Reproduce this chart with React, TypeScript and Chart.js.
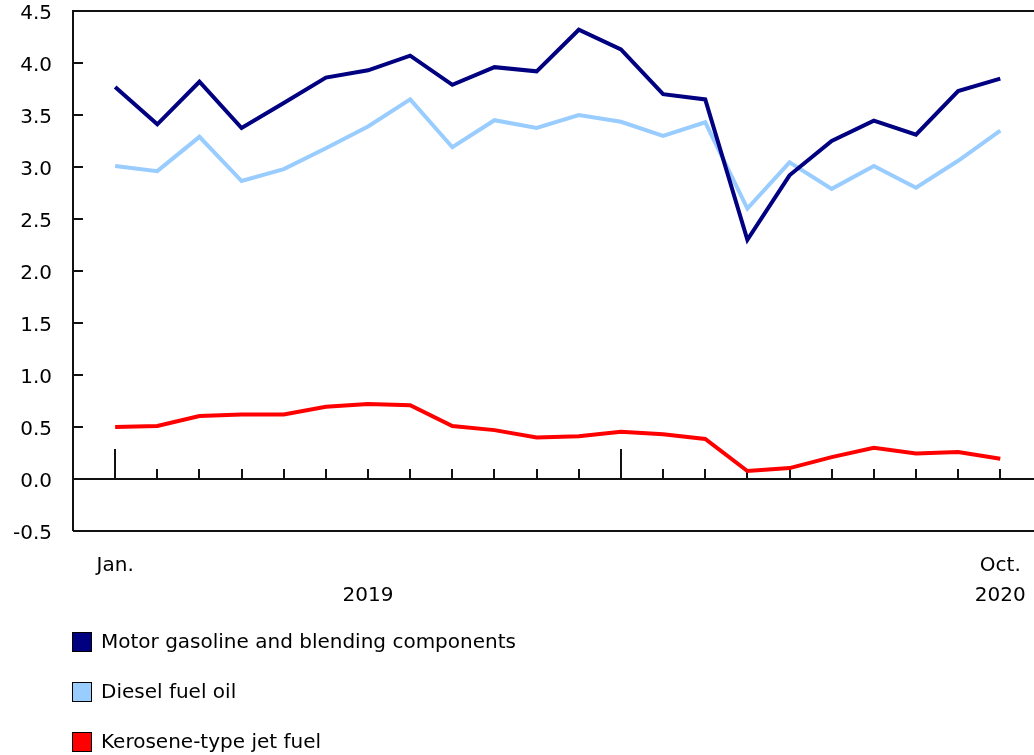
import React, { useEffect, useRef } from 'react';
import { Chart, registerables } from 'chart.js';

Chart.register(...registerables);

const months = [
  'Jan. 2019', 'Feb. 2019', 'Mar. 2019', 'Apr. 2019', 'May 2019', 'Jun. 2019',
  'Jul. 2019', 'Aug. 2019', 'Sep. 2019', 'Oct. 2019', 'Nov. 2019', 'Dec. 2019',
  'Jan. 2020', 'Feb. 2020', 'Mar. 2020', 'Apr. 2020', 'May 2020', 'Jun. 2020',
  'Jul. 2020', 'Aug. 2020', 'Sep. 2020', 'Oct. 2020',
];
const yearStartIdx = [0, 12];
const xLabelIdx = [0, 6, 21];
const xTickLabels = [['Jan.', ''], ['', '2019'], ['Oct.', '2020']];
const yTickValues = [-0.5, 0, 0.5, 1, 1.5, 2, 2.5, 3, 3.5, 4, 4.5];

const gasoline = [3.77, 3.41, 3.82, 3.375, 3.615, 3.86, 3.93, 4.07, 3.79, 3.96, 3.92, 4.32,
  4.13, 3.70, 3.65, 2.30, 2.92, 3.25, 3.445, 3.31, 3.73, 3.85];
const diesel = [3.01, 2.96, 3.29, 2.865, 2.98, 3.18, 3.39, 3.65, 3.19, 3.45, 3.375, 3.50,
  3.435, 3.30, 3.43, 2.60, 3.045, 2.79, 3.01, 2.80, 3.06, 3.35];
const jet = [0.50, 0.51, 0.605, 0.62, 0.62, 0.695, 0.72, 0.71, 0.51, 0.47, 0.40, 0.41,
  0.455, 0.43, 0.385, 0.077, 0.105, 0.21, 0.30, 0.245, 0.26, 0.195];

const seriesNames = ['Motor gasoline and blending components', 'Diesel fuel oil', 'Kerosene-type jet fuel'];
const seriesColors = ['#000080', '#99CCFF', '#FF0000'];

const FONT = '"DejaVu Sans", Verdana, sans-serif';
const FONT_SIZE = 20;

const decorPlugin = {
  id: 'decor',
  beforeDatasetsDraw(chart: any) {
    const { ctx, chartArea: a, scales } = chart;
    const xs = scales.x;
    const ys = scales.y;
    ctx.save();
    ctx.strokeStyle = '#111';
    ctx.lineWidth = 2;
    ctx.beginPath();
    ctx.moveTo(a.left, a.bottom);
    ctx.lineTo(a.left, a.top);
    ctx.lineTo(a.right + 5, a.top);
    ctx.moveTo(a.left, a.bottom);
    ctx.lineTo(a.right + 5, a.bottom);
    yTickValues.forEach((v) => {
      const py = ys.getPixelForValue(v);
      ctx.moveTo(a.left, py);
      ctx.lineTo(a.left + 10, py);
    });
    const y0 = ys.getPixelForValue(0);
    ctx.moveTo(a.left, y0);
    ctx.lineTo(a.right + 5, y0);
    months.forEach((_, i) => {
      const px = Math.round(xs.getPixelForValue(i));
      const len = yearStartIdx.includes(i) ? 30 : 10;
      ctx.moveTo(px, y0);
      ctx.lineTo(px, y0 - len);
    });
    ctx.stroke();
    ctx.restore();
  },
  afterDraw(chart: any) {
    const { ctx, chartArea: a } = chart;
    ctx.save();
    ctx.font = `${FONT_SIZE}px ${FONT}`;
    ctx.textBaseline = 'middle';
    ctx.textAlign = 'left';
    chart.data.datasets.forEach((ds: any, i: number) => {
      const cy = a.bottom + 111 + i * 50;
      ctx.fillStyle = ds.borderColor;
      ctx.fillRect(72, cy - 10, 20, 20);
      ctx.strokeStyle = '#000';
      ctx.lineWidth = 1;
      ctx.strokeRect(72.5, cy - 9.5, 19, 19);
      ctx.fillStyle = '#000';
      ctx.fillText(ds.label, 101, cy + 1);
    });
    ctx.restore();
  },
};

export default function App() {
  const ref = useRef<HTMLCanvasElement | null>(null);
  useEffect(() => {
    if (!ref.current) return;
    const toPts = (arr: number[]) => arr.map((v, i) => ({ x: i, y: v }));
    const chart = new Chart(ref.current, {
      type: 'line',
      data: {
        datasets: [
          { label: seriesNames[0], data: toPts(gasoline), borderColor: seriesColors[0], backgroundColor: seriesColors[0] },
          { label: seriesNames[1], data: toPts(diesel), borderColor: seriesColors[1], backgroundColor: seriesColors[1] },
          { label: seriesNames[2], data: toPts(jet), borderColor: seriesColors[2], backgroundColor: seriesColors[2] },
        ].map((d) => ({ ...d, borderWidth: 4, pointRadius: 0, tension: 0, fill: false })),
      },
      options: {
        animation: false,
        responsive: false,
        devicePixelRatio: 1,
        layout: { padding: { top: 0, right: 0, bottom: 0, left: 0 } },
        plugins: { legend: { display: false }, tooltip: { enabled: false } },
        scales: {
          x: {
            type: 'linear',
            min: -1,
            max: 21.8,
            grid: { display: false },
            border: { display: false },
            afterBuildTicks: (scale: any) => {
              scale.ticks = xLabelIdx.map((v) => ({ value: v }));
            },
            afterFit: (scale: any) => {
              scale.height = 224;
              scale.paddingLeft = 0;
              scale.paddingRight = 0;
            },
            ticks: {
              autoSkip: false,
              maxRotation: 0,
              minRotation: 0,
              padding: 12,
              color: '#000',
              font: { family: FONT, size: FONT_SIZE, lineHeight: 30 / FONT_SIZE },
              callback: (_v: any, idx: number) => xTickLabels[idx],
            },
          },
          y: {
            min: -0.5,
            max: 4.5,
            grid: { display: false, drawTicks: false },
            border: { display: false },
            afterFit: (scale: any) => {
              scale.width = 73;
              scale.paddingTop = 11;
              scale.paddingBottom = 0;
            },
            ticks: {
              stepSize: 0.5,
              padding: 21,
              labelOffset: 3,
              color: '#000',
              font: { family: FONT, size: FONT_SIZE, lineHeight: 22 / FONT_SIZE },
              callback: (v: any) => Number(v).toFixed(1),
            },
          },
        },
      },
      plugins: [decorPlugin],
    } as any);
    return () => chart.destroy();
  }, []);
  return (
    <div style={{ position: 'fixed', left: 0, top: 0, width: 1034, height: 755, background: '#fff' }}>
      <canvas ref={ref} width={1034} height={755} style={{ display: 'block' }} />
    </div>
  );
}
